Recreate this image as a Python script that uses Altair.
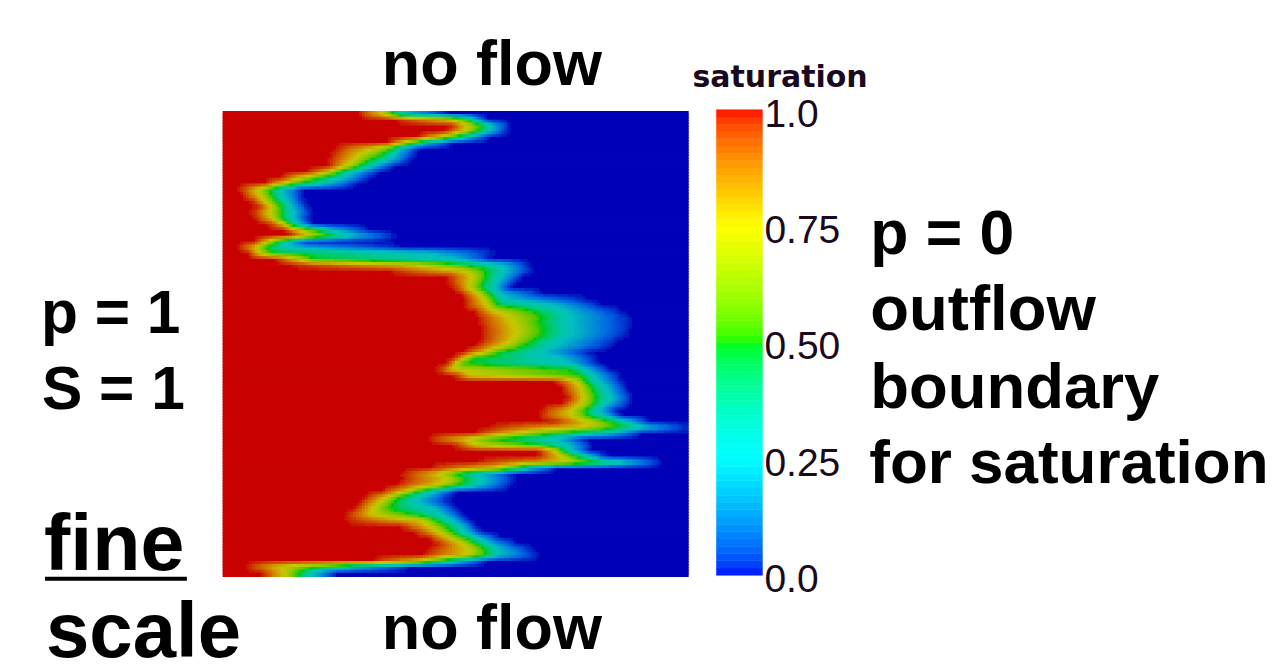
import altair as alt
import numpy as np
import pandas as pd

# Per-row front positions across the domain (0..1397), row 0 at the top of the field.
# Saturation at each point: red_end=1.0, yellow=0.75, green=0.5, cyan=0.25, blue_start=0.0
red_end = [410,520,690,670,590,500,340,330,320,320,260,180,130,50,60,90,110,90,100,140,
           190,210,100,50,80,160,200,500,680,680,700,720,730,730,760,770,770,780,780,780,
           760,730,700,680,650,700,1000,1020,1030,1040,1020,960,950,1000,800,760,620,700,950,950,
           760,620,540,540,520,480,430,410,400,370,370,540,580,620,650,620,600,450,70,120]
yellow = [480,680,735,725,650,540,450,410,395,370,320,235,180,105,110,125,145,140,150,185,
          228,260,135,100,110,225,570,720,750,745,740,770,785,795,815,860,870,880,880,870,
          840,790,730,700,690,740,1060,1075,1080,1085,1075,1050,1050,1100,1080,880,730,760,1000,1020,
          1030,820,650,680,640,550,495,470,450,450,600,620,650,680,720,740,730,590,170,185]
green = [510,735,780,765,695,575,510,480,440,410,350,290,225,140,145,160,175,175,175,200,
         280,330,165,125,150,270,720,790,790,780,775,800,815,825,930,960,950,960,960,930,
         900,830,750,720,1050,1075,1090,1105,1115,1120,1115,1090,1095,1170,1190,1000,810,950,1020,1060,
         1130,880,700,730,700,590,530,510,500,570,640,670,690,725,760,790,790,650,300,225]
cyan = [545,755,810,800,735,610,530,520,500,450,390,365,310,180,180,195,205,215,210,230,
        325,395,205,190,620,700,840,850,840,825,820,835,850,1000,1030,1050,1040,1050,1050,1020,
        1000,960,1020,1040,1090,1115,1130,1150,1160,1170,1150,1130,1150,1220,1270,1150,1000,1040,1050,1105,
        1220,920,770,790,770,640,590,590,640,660,690,720,730,770,800,830,830,710,400,270]
blue_start = [680,790,860,855,800,690,590,575,560,510,470,440,400,240,240,240,255,265,255,270,
              440,520,250,540,820,800,920,930,900,880,860,960,1100,1140,1200,1230,1230,1230,1220,1190,
              1170,1100,1120,1130,1160,1190,1200,1210,1220,1230,1220,1180,1200,1280,1400,1260,1080,1110,1100,1150,
              1320,1000,870,880,860,700,680,680,700,720,740,760,780,830,880,930,950,790,560,340]

field_stops = [0, 0.25, 0.5, 0.75, 1]
field_colors = ["#0000b8", "#00c0c0", "#00c800", "#c8c800", "#c80000"]
bar_colors = ["#0000ff", "#00ffff", "#00ff00", "#ffff00", "#ff0000"]
tick_values = [1.0, 0.75, 0.5, 0.25, 0.0]
tick_labels = ["1.0", "0.75", "0.50", "0.25", "0.0"]
n_cells = 80
n_bands = 64
upsample = 2

edges = np.linspace(0, 1397, n_cells + 1)
centers = (edges[:-1] + edges[1:]) / 2
coarse = np.array([
    np.interp(centers, [red_end[r], yellow[r], green[r], cyan[r], blue_start[r]], [1, 0.75, 0.5, 0.25, 0])
    for r in range(n_cells)
])

# Smooth display of the cells, as the picture's viewer does it
n_fine = n_cells * upsample
fx = (np.arange(n_fine) + 0.5) / upsample - 0.5
by_col = np.array([np.interp(fx, np.arange(n_cells), row) for row in coarse])
fine = np.array([np.interp(fx, np.arange(n_cells), by_col[:, c]) for c in range(n_fine)]).T

records = []
fine_w = 1397 / n_fine
for r in range(n_fine):
    vals = np.round(fine[r], 2)
    start = 0
    for c in range(1, n_fine + 1):
        if c == n_fine or vals[c] != vals[start]:
            records.append({"x": start * fine_w, "x2": c * fine_w, "y": r / upsample,
                            "y2": (r + 1) / upsample, "s": float(vals[start])})
            start = c
field_df = pd.DataFrame(records)

band_edges = np.linspace(0, 1, n_bands + 1)
bar_df = pd.DataFrame({"a": band_edges[:-1], "b": band_edges[1:], "level": (band_edges[:-1] + band_edges[1:]) / 2})
tick_df = pd.DataFrame({"v": tick_values, "label": tick_labels})

field = alt.Chart(field_df).mark_rect(strokeWidth=1.4).encode(
    x=alt.X("x:Q", axis=None, scale=alt.Scale(domain=[0, 1397], range=[215.5, 680.5])),
    x2="x2:Q",
    y=alt.Y("y:Q", axis=None, scale=alt.Scale(domain=[0, n_cells], range=[103.5, 568.5])),
    y2="y2:Q",
    color=alt.Color("s:Q", legend=None, scale=alt.Scale(domain=field_stops, range=field_colors)),
    stroke=alt.Stroke("s:Q", legend=None, scale=alt.Scale(domain=field_stops, range=field_colors)),
)

bar = alt.Chart(bar_df).mark_rect(strokeWidth=0.5).encode(
    x=alt.value(709), x2=alt.value(755),
    y=alt.Y("a:Q", axis=None, scale=alt.Scale(domain=[0, 1], range=[567.5, 101.5])),
    y2="b:Q",
    color=alt.Color("level:Q", legend=None, scale=alt.Scale(domain=field_stops, range=bar_colors)),
    stroke=alt.Stroke("level:Q", legend=None, scale=alt.Scale(domain=field_stops, range=bar_colors)),
)

ticks = alt.Chart(tick_df).mark_text(
    align="left", baseline="alphabetic", dy=17, font="Liberation Sans", fontSize=39, color="#1a0a20"
).encode(
    x=alt.value(757),
    y=alt.Y("v:Q", axis=None, scale=alt.Scale(domain=[0, 1], range=[567.5, 101.5])),
    text="label:N",
)


def label(text, px, py, size=63, weight="bold", color="#000000", font="Liberation Sans"):
    return alt.Chart(pd.DataFrame({"t": [text]})).mark_text(
        align="left", baseline="alphabetic", font=font,
        fontSize=size, fontWeight=weight, color=color
    ).encode(x=alt.value(px - 8), y=alt.value(py - 8), text="t:N")


labels = [
    label("no flow", 382, 85), label("no flow", 382, 649),
    label("p = 1", 41, 333, size=60.5), label("S = 1", 42, 409, size=60.5),
    label("fine", 44, 570, size=79), label("scale", 46, 657, size=78),
    label("p = 0", 871, 254, size=62.5), label("outflow", 871, 330, size=63.5),
    label("boundary", 871, 408, size=63.5), label("for saturation", 870, 483, size=62),
    label("saturation", 693, 87, size=30, color="#1a0a20", font="DejaVu Sans"),
]
underline = alt.Chart(pd.DataFrame({"k": [0]})).mark_rule(color="#000000", strokeWidth=4).encode(
    x=alt.value(37), x2=alt.value(179), y=alt.value(571)
)

chart = alt.layer(field, bar, ticks, underline, *labels).resolve_scale(
    color="independent", stroke="independent", y="independent", x="independent"
).properties(width=1261, height=651, padding=0).configure_view(stroke=None)

chart.save("out.html", embed_options={"renderer": "svg", "actions": False})
